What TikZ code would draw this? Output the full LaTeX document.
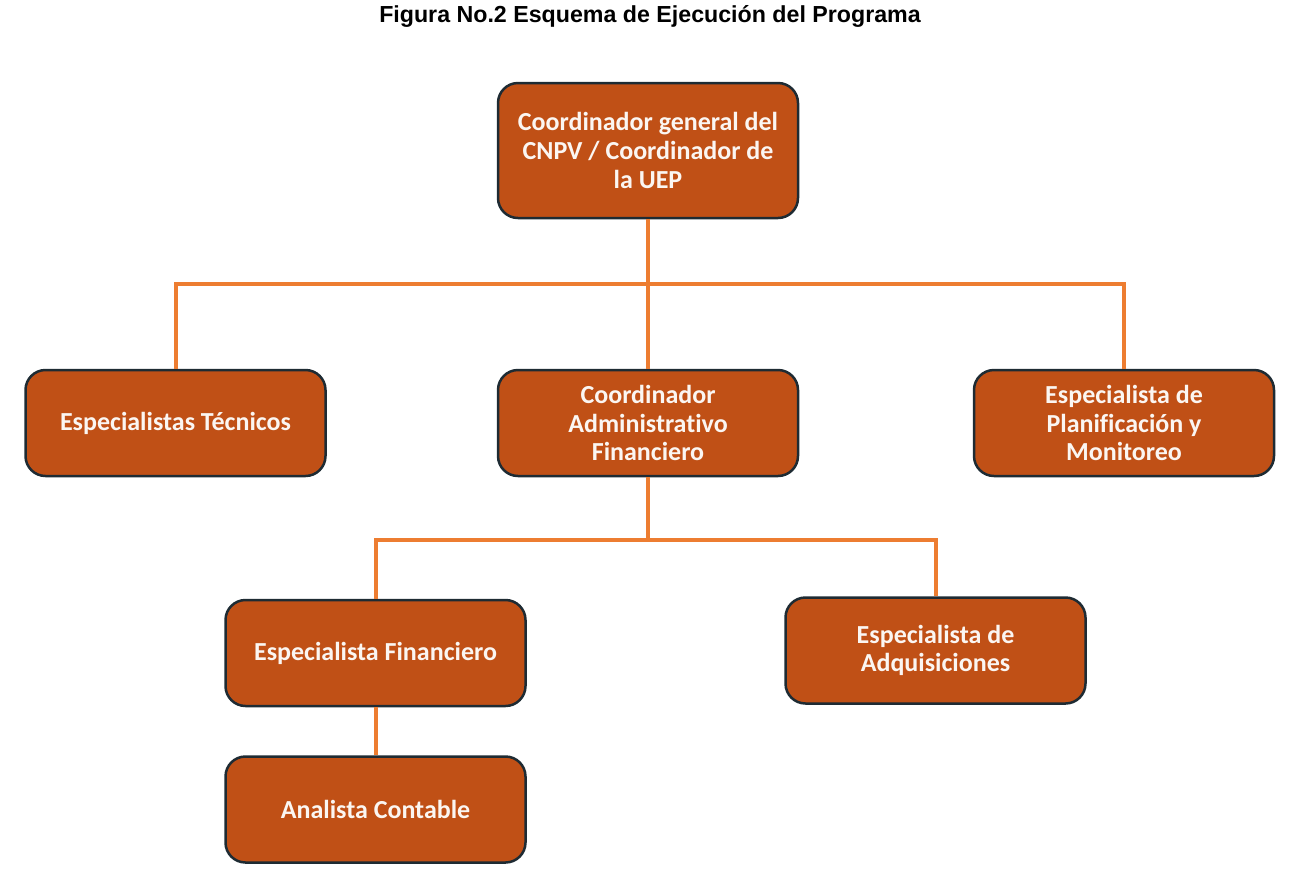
\documentclass[tikz,border=0pt]{standalone}
\usepackage{fontspec}
\setmainfont{Liberation Sans}
\newfontfamily\boxfont[Ligatures=NoCommon]{Carlito}
\usetikzlibrary{positioning}

\definecolor{boxfill}{HTML}{C05016}
\definecolor{boxline}{HTML}{1E2B33}
\definecolor{linkline}{HTML}{ED7D31}
\definecolor{boxtext}{HTML}{FBF6F2}

\begin{document}
\begin{tikzpicture}[
			x=0.5pt, y=-0.5pt,
			main/.style = {draw=boxline, line width=1.25pt, fill=boxfill, rounded corners=10pt,
				minimum width=150pt, minimum height=53pt, align=center, text=boxtext,
				font=\boxfont\bfseries\fontsize{13}{14.3}\selectfont},
			link/.style = {draw=linkline, line width=2pt}
		]
		\useasboundingbox (0,0) rectangle (1306,875);
		\node[font=\bfseries\fontsize{11.6}{13}\selectfont] (title) at (650,16) {Figura No.2 Esquema de Ejecución del Programa};
		\node[main, minimum height=67.5pt] (c) at (648,150.5) {Coordinador general del\\CNPV / Coordinador de\\la UEP};
		% Level 1.
		\node[main] (t) at (175.5,423) {Especialistas Técnicos};
		\node[main] (a) at (648,423) {Coordinador\\Administrativo\\Financiero};
		\node[main] (p) at (1124,423) {Especialista de\\Planificación y\\Monitoreo};
		% Level 2.
		\node[main] (f) at (375.5,653) {Especialista Financiero};
		\node[main] (q) at (935.5,650.5) {Especialista de\\Adquisiciones};
		% Level 3.
		\node[main] (ac) at (375.5,809.5) {Analista Contable};

		\coordinate (j1) at (648,284);
		\coordinate (j2) at (648,540);

		\draw[link] (c) -- (a);
		\draw[link] (t.north) |- (j1) -| (p.north);
		\draw[link] (a) -- (j2);
		\draw[link] (f.north) |- (j2) -| (q.north);
		\draw[link] (f) -- (ac);
	\end{tikzpicture}
\end{document}
